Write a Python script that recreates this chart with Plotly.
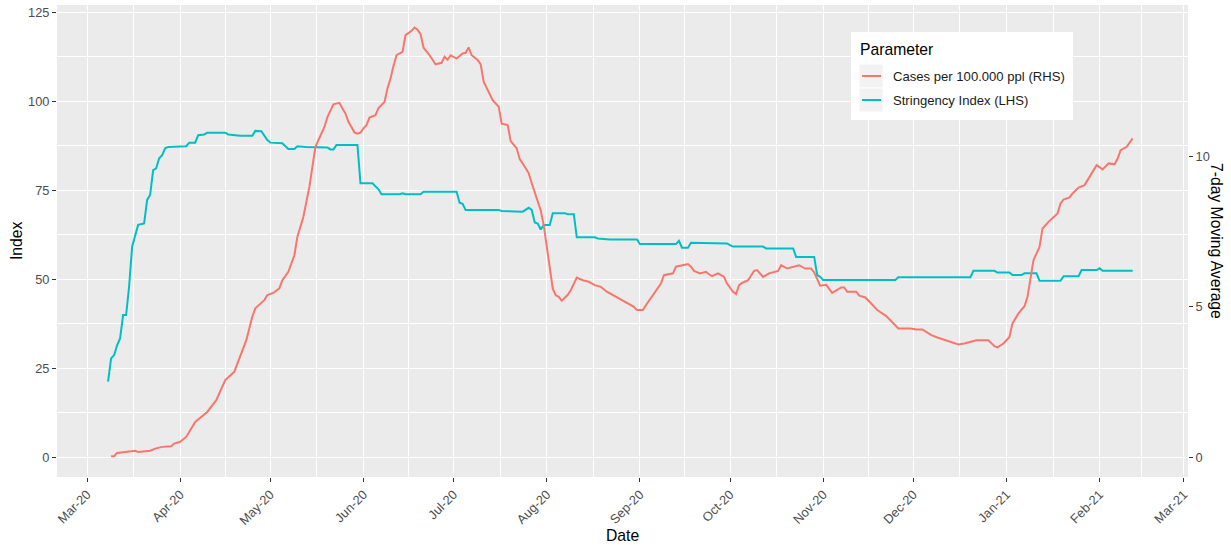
import pandas as pd
import plotly.graph_objects as go

# ---------------------------------------------------------------------------
# Data (days counted from 1 March 2020)
# ---------------------------------------------------------------------------
ORIGIN = pd.Timestamp("2020-03-01")

# Stringency index (left axis), corners of the daily series
stringency_day = [7, 8, 9, 10, 11, 12, 13, 14, 15, 16, 17, 19, 20, 21, 22, 23, 24, 25,
                  26, 27, 33, 34, 36, 37, 39, 40, 46, 47, 50, 51, 55, 56, 58, 60, 61,
                  65, 67, 69, 70, 72, 73, 80, 81, 82, 83, 90, 91, 95, 96, 97, 98, 104,
                  105, 106, 111, 112, 123, 124, 125, 126, 137, 138, 145, 146, 147, 148,
                  149, 150, 151, 152, 154, 155, 159, 160, 162, 163, 169, 170, 174, 183,
                  184, 196, 197, 198, 200, 201, 208, 209, 213, 214, 215, 225, 226, 235,
                  236, 242, 243, 244, 245, 269, 270, 294, 295, 302, 303, 307, 308, 311,
                  312, 316, 317, 324, 325, 330, 331, 336, 337, 338, 348]
stringency_value = [21.3, 27.8, 28.7, 31.5, 33.4, 40.0, 40.0, 48.0, 59.2, 62.0, 65.3, 65.7,
                    72.3, 73.7, 80.7, 81.2, 84.0, 84.9, 86.8, 87.2, 87.4, 88.4, 88.4, 90.5,
                    90.7, 91.2, 91.2, 90.7, 90.5, 90.3, 90.3, 91.7, 91.6, 89.1, 88.4, 88.2,
                    86.6, 86.6, 87.4, 87.4, 87.2, 87.0, 86.5, 86.5, 87.7, 87.7, 77.0, 77.0,
                    76.0, 75.3, 73.9, 73.9, 74.2, 73.9, 73.9, 74.6, 74.6, 71.5, 71.2, 69.5,
                    69.5, 69.2, 69.0, 69.5, 70.1, 69.5, 66.0, 65.7, 64.0, 65.3, 65.3, 68.6,
                    68.6, 68.3, 68.3, 61.8, 61.8, 61.5, 61.2, 61.2, 59.9, 59.9, 60.8, 58.9,
                    58.9, 60.3, 60.3, 60.1, 60.1, 59.6, 59.2, 59.2, 58.7, 58.7, 56.3, 56.3,
                    51.2, 50.7, 49.8, 49.8, 50.6, 50.6, 52.4, 52.4, 51.9, 51.9, 51.2, 51.2,
                    51.7, 51.7, 49.6, 49.6, 50.9, 50.9, 52.6, 52.6, 53.1, 52.4, 52.4]

# New cases per 100.000 people, 7-day moving average (right axis)
cases_day = [8, 9, 10, 13, 16, 17, 21, 23, 25, 28, 29, 31, 33, 36, 40, 43, 46, 49, 51, 53,
             55, 56, 59, 60, 62, 64, 65, 67, 69, 70, 72, 74, 75, 76, 79, 80, 82, 84, 85, 86,
             87, 89, 90, 91, 92, 93, 94, 96, 97, 99, 100, 101, 102, 103, 105, 106, 108, 109,
             110, 111, 112, 114, 116, 117, 118, 119, 120, 121, 123, 125, 126, 127, 128, 130,
             131, 132, 133, 135, 137, 138, 140, 141, 143, 144, 146, 147, 148, 149, 150, 151,
             152, 153, 154, 155, 156, 157, 158, 160, 161, 162, 163, 165, 167, 169, 171, 173,
             175, 177, 180, 182, 183, 185, 186, 188, 190, 191, 192, 195, 196, 198, 200, 201,
             202, 204, 206, 207, 208, 210, 212, 213, 215, 216, 217, 218, 220, 222, 223, 225,
             227, 230, 231, 233, 235, 237, 239, 241, 242, 243, 244, 246, 248, 251, 252, 253,
             256, 257, 259, 261, 263, 266, 268, 270, 274, 276, 278, 281, 283, 286, 290, 292,
             294, 296, 300, 302, 303, 305, 307, 308, 310, 312, 313, 314, 315, 317, 318, 320,
             323, 324, 325, 327, 328, 330, 332, 334, 336, 338, 340, 342, 343, 344, 346, 348]
cases_value = [0.04, 0.04, 0.15, 0.19, 0.22, 0.18, 0.22, 0.30, 0.35, 0.37, 0.46, 0.52, 0.68,
               1.18, 1.51, 1.90, 2.57, 2.84, 3.34, 3.89, 4.67, 4.95, 5.22, 5.39, 5.46, 5.61,
               5.88, 6.16, 6.71, 7.32, 7.99, 8.98, 9.64, 10.31, 10.97, 11.30, 11.72, 11.77,
               11.58, 11.42, 11.14, 10.79, 10.75, 10.78, 10.92, 11.03, 11.28, 11.36, 11.60,
               11.80, 12.25, 12.58, 13.00, 13.35, 13.46, 14.02, 14.16, 14.27, 14.20, 14.05,
               13.60, 13.35, 13.05, 13.08, 13.10, 13.30, 13.20, 13.35, 13.24, 13.41, 13.43,
               13.61, 13.35, 13.19, 13.05, 12.47, 12.25, 11.86, 11.64, 11.08, 11.03, 10.50,
               10.26, 9.90, 9.60, 9.43, 9.10, 8.80, 8.50, 8.20, 7.70, 7.00, 6.20, 5.60, 5.38,
               5.33, 5.20, 5.40, 5.55, 5.75, 5.97, 5.88, 5.83, 5.72, 5.66, 5.50, 5.39, 5.28,
               5.13, 5.00, 4.89, 4.89, 5.05, 5.33, 5.61, 5.77, 6.05, 6.11, 6.33, 6.38, 6.42,
               6.33, 6.19, 6.11, 6.16, 6.08, 6.02, 6.11, 5.99, 5.77, 5.50, 5.42, 5.72, 5.79,
               5.88, 6.19, 6.22, 5.99, 6.11, 6.19, 6.38, 6.27, 6.33, 6.38, 6.27, 6.27, 6.14,
               5.94, 5.70, 5.73, 5.46, 5.64, 5.64, 5.50, 5.50, 5.37, 5.31, 5.11, 4.89, 4.69,
               4.47, 4.28, 4.28, 4.25, 4.25, 4.06, 3.98, 3.87, 3.75, 3.78, 3.84, 3.89, 3.89,
               3.69, 3.65, 3.78, 4.00, 4.45, 4.78, 5.02, 5.33, 5.88, 6.55, 6.99, 7.60, 7.82,
               8.10, 8.43, 8.56, 8.63, 8.76, 8.96, 9.04, 9.37, 9.70, 9.56, 9.76, 9.73, 9.92,
               10.20, 10.31, 10.59]

# Axis ticks
month_ticks = ["2020-03-01", "2020-04-01", "2020-05-01", "2020-06-01", "2020-07-01",
               "2020-08-01", "2020-09-01", "2020-10-01", "2020-11-01", "2020-12-01",
               "2021-01-01", "2021-02-01", "2021-03-01"]
month_labels = ["Mar-20", "Apr-20", "May-20", "Jun-20", "Jul-20", "Aug-20", "Sep-20",
                "Oct-20", "Nov-20", "Dec-20", "Jan-21", "Feb-21", "Mar-21"]
index_ticks = [0, 25, 50, 75, 100, 125]
avg_ticks = [0, 5, 10]

series_names = ["Cases per 100.000 ppl (RHS)", "Stringency Index (LHS)"]

# ---------------------------------------------------------------------------
# Styling
# ---------------------------------------------------------------------------
W, H = 1231, 545
ML, MR, MT, MB = 57, 43, 5, 68
PW, PH = W - ML - MR, H - MT - MB
RED, CYAN = "#F8766D", "#00BFC4"
FONT = "Liberation Sans, Arial, sans-serif"
PANEL = "#EBEBEB"
TICK_GREY = "#4D4D4D"
TICK_SIZE = 12.8
TITLE_SIZE = 15.7
LEGEND_SIZE = 13.1

# the secondary axis is a rescaled copy of the left one
SCALE = 8.46
y1_range = [-5.5, 127.05]
y2_range = [v / SCALE for v in y1_range]


def px(x):
    return (x - ML) / PW


def py(y):
    return (H - MB - y) / PH


stringency_dates = [ORIGIN + pd.Timedelta(days=d) for d in stringency_day]
cases_dates = [ORIGIN + pd.Timedelta(days=d) for d in cases_day]

major = pd.to_datetime(month_ticks)
minor = [major[i] + (major[i + 1] - major[i]) / 2 for i in range(len(major) - 1)]

fig = go.Figure()
fig.add_trace(go.Scatter(
    x=stringency_dates, y=stringency_value, mode="lines", name=series_names[1],
    line=dict(color=CYAN, width=2), yaxis="y", showlegend=False))
fig.add_trace(go.Scatter(
    x=cases_dates, y=cases_value, mode="lines", name=series_names[0],
    line=dict(color=RED, width=2), yaxis="y2", showlegend=False))

tick_font = dict(family=FONT, size=TICK_SIZE, color=TICK_GREY)

fig.update_layout(
    width=W, height=H,
    margin=dict(l=ML, r=MR, t=MT, b=MB),
    paper_bgcolor="white", plot_bgcolor=PANEL,
    font=dict(family=FONT, color=TICK_GREY),
    xaxis=dict(
        type="date", range=["2020-02-20", "2021-03-02 10:00"],
        tickmode="array", tickvals=list(major), ticktext=month_labels,
        tickangle=-45, tickfont=tick_font,
        ticks="outside", ticklen=4, tickcolor="#333333", tickwidth=1,
        showgrid=True, gridcolor="white", gridwidth=1.1,
        minor=dict(tickmode="array", tickvals=minor, showgrid=True,
                   gridcolor="white", gridwidth=0.55, ticks=""),
        zeroline=False, showline=False,
    ),
    yaxis=dict(
        range=y1_range, tickmode="array", tickvals=index_ticks,
        tickfont=tick_font,
        ticks="outside", ticklen=4, tickcolor="#333333", tickwidth=1,
        showgrid=True, gridcolor="white", gridwidth=1.1,
        minor=dict(tickmode="array", tickvals=[12.5, 37.5, 62.5, 87.5, 112.5],
                   showgrid=True, gridcolor="white", gridwidth=0.55, ticks=""),
        zeroline=False, showline=False,
    ),
    yaxis2=dict(
        overlaying="y", side="right", range=y2_range,
        tickmode="array", tickvals=avg_ticks,
        tickfont=tick_font,
        ticks="outside", ticklen=4, tickcolor="#333333", tickwidth=1,
        showgrid=False, zeroline=False, showline=False,
    ),
)

title_font = dict(family=FONT, size=TITLE_SIZE, color="black")
annotations = [
    dict(x=px(622), y=py(535), text="Date", textangle=0),
    dict(x=px(16), y=py(241), text="Index", textangle=-90),
    dict(x=px(1217), y=py(241), text="7-day Moving Average", textangle=90),
]
for a in annotations:
    a.update(xref="paper", yref="paper", showarrow=False, font=title_font,
             xanchor="center", yanchor="middle")

# Legend box
shapes = [
    dict(type="rect", xref="paper", yref="paper", x0=px(851), x1=px(1073),
         y0=py(120), y1=py(32), fillcolor="white", line=dict(width=0), layer="above"),
]
annotations.append(dict(x=px(858), y=py(50), text="Parameter", xref="paper", yref="paper",
                        showarrow=False, xanchor="left", yanchor="middle",
                        font=title_font))
for i, (name, col) in enumerate(zip(series_names, [RED, CYAN])):
    top = 64 + 24 * i
    shapes.append(dict(type="rect", xref="paper", yref="paper", x0=px(859), x1=px(883),
                       y0=py(top + 24), y1=py(top), fillcolor="#F2F2F2",
                       line=dict(color="white", width=1), layer="above"))
    shapes.append(dict(type="line", xref="paper", yref="paper", x0=px(862), x1=px(881),
                       y0=py(top + 12), y1=py(top + 12),
                       line=dict(color=col, width=2), layer="above"))
    annotations.append(dict(x=px(891), y=py(top + 12), text=name, xref="paper",
                            yref="paper", showarrow=False, xanchor="left",
                            yanchor="middle",
                            font=dict(family=FONT, size=LEGEND_SIZE, color="#1A1A1A")))

fig.update_layout(shapes=shapes, annotations=annotations)
fig.write_html("out.html")
